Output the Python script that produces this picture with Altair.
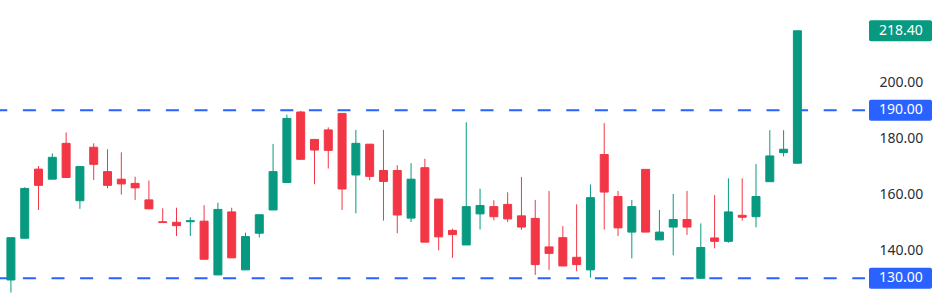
import altair as alt
import pandas as pd

opens = [129.4,144.3,169.0,165.4,178.2,157.7,176.8,168.1,165.4,163.9,158.0,150.2,150.0,150.2,150.4,131.2,153.7,133.0,146.1,154.4,
         164.2,189.4,179.6,183.0,188.9,166.9,177.9,168.5,168.5,151.5,169.5,158.3,147.1,141.9,153.0,155.6,156.4,152.3,151.4,141.2,
         144.5,137.5,133.0,174.2,159.2,146.5,168.9,143.7,148.3,151.0,130.0,144.4,143.2,152.5,152.0,164.5,174.9,171.1]
closes = [144.5,162.1,163.2,173.2,166.0,169.9,170.7,163.2,163.7,162.3,154.8,149.9,148.8,150.6,136.8,154.6,137.3,144.9,152.7,168.1,
          187.1,172.5,175.8,175.7,161.9,178.2,166.4,164.6,152.6,165.4,142.9,144.8,145.6,155.6,156.0,152.0,151.2,148.3,134.9,138.9,
          134.4,134.9,158.8,160.8,148.0,155.6,146.5,146.5,151.0,148.3,141.0,143.2,153.7,151.8,159.2,173.7,176.1,218.4]
highs = [144.6,162.5,170.1,174.6,182.1,169.9,178.2,176.1,175.0,166.3,164.9,155.0,155.2,151.8,156.1,157.0,155.2,146.3,152.7,178.0,
         188.5,189.8,179.6,183.9,188.9,183.0,177.9,183.0,170.4,171.1,172.7,158.3,147.7,185.7,162.0,157.9,160.7,166.2,158.0,161.2,
         148.6,156.4,163.5,185.4,161.2,158.0,168.9,154.4,160.1,161.2,149.6,159.7,165.7,165.7,170.8,182.9,182.9,218.4]
lows = [124.9,144.3,154.4,165.4,166.0,154.8,165.1,162.1,159.9,158.0,154.8,149.9,145.1,145.1,136.8,131.2,137.3,133.0,144.6,154.4,
        164.2,172.5,163.6,169.2,154.4,153.2,165.0,150.6,146.1,150.1,142.9,140.0,137.3,141.9,147.4,150.7,150.1,147.3,131.2,133.0,
        134.4,132.5,130.2,147.4,145.1,137.1,146.5,143.7,138.2,145.5,130.0,140.7,142.7,150.6,148.2,164.5,173.5,171.1]

level_values = [190, 130]
tick_values = [140, 160, 180, 200]
last_price = closes[-1]

GREEN = "#089981"
RED = "#F23645"
BLUE = "#2962FF"
FONT = "Noto Sans"

df = pd.DataFrame({
    "i": list(range(len(opens))),
    "open": opens, "high": highs, "low": lows, "close": closes,
})
df["dir"] = ["up" if c >= o else "down" for o, c in zip(opens, closes)]

xs = alt.Scale(domain=[-0.43, 61.32], nice=False, zero=False)
ys = alt.Scale(domain=[122.6, 229.4], nice=False, zero=False)
cscale = alt.Scale(domain=["up", "down", "level"], range=[GREEN, RED, BLUE])
col = alt.Color("dir:N", scale=cscale, legend=None)

base = alt.Chart(df)

wicks = base.mark_rule(strokeWidth=1).encode(
    x=alt.X("i:Q", scale=xs, axis=None),
    y=alt.Y("low:Q", scale=ys, axis=alt.Axis(orient="right", values=tick_values, format=".2f",
                                              grid=False, domain=False, ticks=False, tickSize=0,
                                              labelPadding=17, labelFont=FONT, labelFontSize=14,
                                              labelColor="#2a2e39", labelAlign="left", title=None)),
    y2="high:Q",
    color=col,
)

bodies = base.mark_bar(size=8, strokeWidth=1).encode(
    x=alt.X("i:Q", scale=xs),
    y=alt.Y("open:Q", scale=ys),
    y2="close:Q",
    color=col,
    stroke=alt.Stroke("dir:N", scale=cscale, legend=None),
)

levels_df = pd.DataFrame({"v": level_values})
levels = alt.Chart(levels_df).mark_rule(
    color=BLUE, strokeWidth=2, strokeDash=[13, 15.6], strokeDashOffset=5.7
).encode(
    y=alt.Y("v:Q", scale=ys),
    x=alt.value(0), x2=alt.value(865),
)

labels_df = pd.DataFrame({
    "v": level_values + [last_price],
    "dir": ["level", "level", "up"],
})
labels_df["txt"] = [f"{v:.2f}" for v in labels_df["v"]]

boxes = alt.Chart(labels_df).transform_calculate(
    top="datum.v + 3.75", bot="datum.v - 3.75"
).mark_rect(cornerRadius=2).encode(
    y=alt.Y("top:Q", scale=ys),
    y2="bot:Q",
    x=alt.value(869), x2=alt.value(932),
    color=col,
)

box_text = alt.Chart(labels_df).mark_text(
    align="left", baseline="middle", font=FONT, fontSize=14, color="white"
).encode(
    y=alt.Y("v:Q", scale=ys),
    x=alt.value(879),
    text="txt:N",
)

chart = alt.layer(levels, wicks, bodies, boxes, box_text).properties(
    width=862, height=299,
    padding={"left": 0, "top": 0, "right": 78, "bottom": 0},
    autosize=alt.AutoSizeParams(type="none"),
    background="white",
).configure_view(strokeWidth=0, stroke="transparent")

chart.save("out.html", embed_options={"renderer": "svg", "actions": False})
